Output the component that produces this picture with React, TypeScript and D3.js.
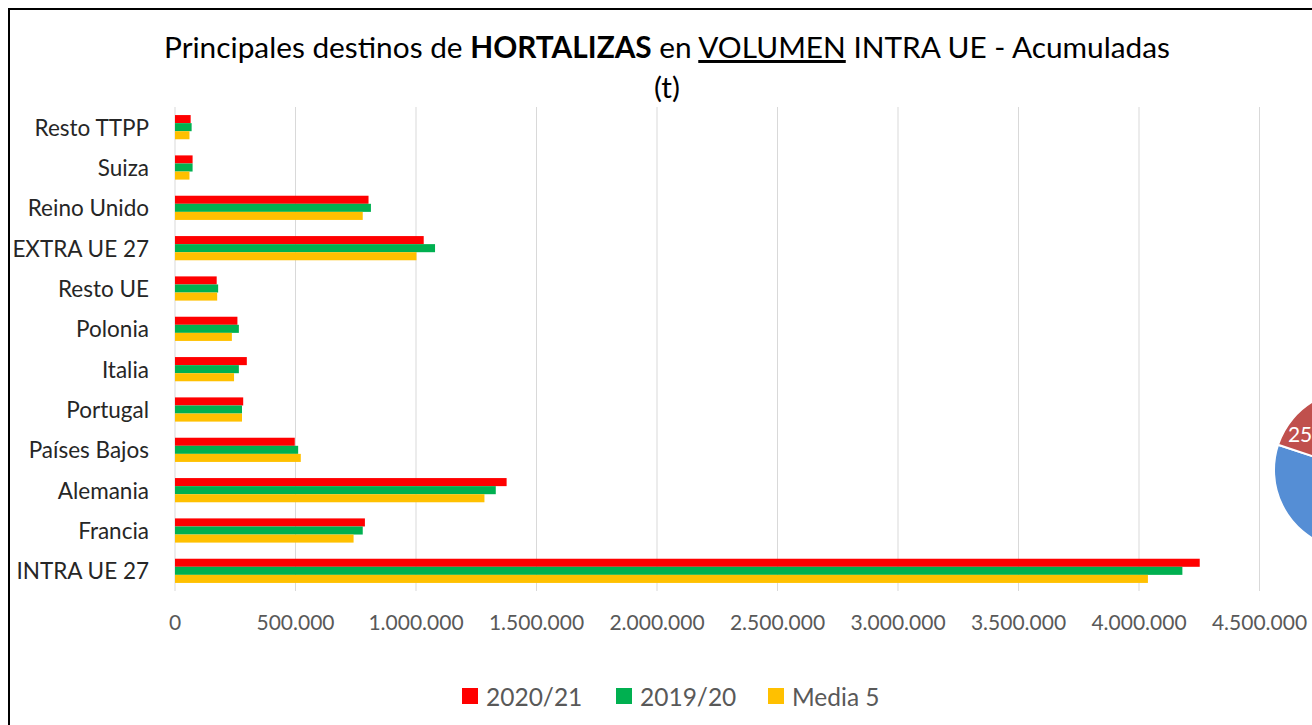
import React from "react";
import * as d3 from "d3";

const categories = [
  "Resto TTPP",
  "Suiza",
  "Reino Unido",
  "EXTRA UE 27",
  "Resto UE",
  "Polonia",
  "Italia",
  "Portugal",
  "Países Bajos",
  "Alemania",
  "Francia",
  "INTRA UE 27",
];
const s2020_21 = [65000, 73000, 803000, 1032000, 173000, 259000, 298000, 283000, 497000, 1376000, 788000, 4252000];
const s2019_20 = [69000, 73000, 813000, 1079000, 179000, 265000, 265000, 278000, 511000, 1331000, 779000, 4180000];
const sMedia5 = [60000, 60000, 779000, 1002000, 175000, 236000, 245000, 278000, 522000, 1284000, 741000, 4037000];
const seriesNames = ["2020/21", "2019/20", "Media 5"];
const seriesColors = ["#FF0000", "#00B050", "#FFC000"];
const xTicks = [0, 500000, 1000000, 1500000, 2000000, 2500000, 3000000, 3500000, 4000000, 4500000];
const pieValues = [75, 25];
const pieColors = ["#558ED5", "#C0504D"];
const pieLabel = "25%";

const W = 1312;
const H = 725;
const FONT = "Lato, 'Open Sans', sans-serif";

const locale = d3.formatLocale({ decimal: ",", thousands: ".", grouping: [3], currency: ["", ""] });
const fmt = locale.format(",d");

export default function App() {
  const series = [s2020_21, s2019_20, sMedia5];
  const x = d3.scaleLinear().domain([0, 5000000]).range([175, 1380]);
  const y = d3.scaleBand<string>().domain(categories).range([107, 591]).paddingInner(0.4).paddingOuter(0.2);
  const inner = d3.scaleBand<number>().domain([0, 1, 2]).range([0, y.bandwidth()]);

  const pieCx = 1354;
  const pieCy = 470;
  const pieR = 80;
  const sepAngle = (288.4 * Math.PI) / 180;
  const blueSpan = (pieValues[0] / d3.sum(pieValues)) * 2 * Math.PI;
  const pie = d3
    .pie<number>()
    .sort(null)
    .startAngle(sepAngle - blueSpan)
    .endAngle(sepAngle - blueSpan + 2 * Math.PI);
  const arcs = pie(pieValues);
  const arcGen = d3.arc<d3.PieArcDatum<number>>().innerRadius(0).outerRadius(pieR);
  const labelAng = (299 * Math.PI) / 180;
  const labelR = pieR * 0.945;

  const legendX = [462, 616, 768];

  return (
    <div style={{ position: "fixed", left: 0, top: 0, width: W, height: H, overflow: "hidden", background: "#fff" }}>
      <svg width={W} height={H} style={{ display: "block", fontFamily: FONT }}>
        <rect x={0} y={0} width={W} height={H} fill="#fff" />
        {/* gridlines */}
        {xTicks.map((t) => (
          <line key={"g" + t} x1={x(t)} x2={x(t)} y1={107} y2={591} stroke="#D9D9D9" strokeWidth={1} />
        ))}
        {/* bars */}
        {categories.map((c, i) => (
          <g key={c}>
            {series.map((s, k) => (
              <rect
                key={k}
                x={x(0)}
                y={(y(c) as number) + (inner(k) as number)}
                width={x(s[i]) - x(0)}
                height={inner.bandwidth()}
                fill={seriesColors[k]}
              />
            ))}
          </g>
        ))}
        {/* y labels */}
        {categories.map((c) => (
          <text
            key={"l" + c}
            x={149}
            y={(y(c) as number) + y.bandwidth() / 2}
            textAnchor="end"
            dominantBaseline="central"
            fontSize={22.5}
            fill="#262626"
          >
            {c}
          </text>
        ))}
        {/* x tick labels */}
        {xTicks.map((t) => (
          <text key={"t" + t} x={x(t)} y={621} textAnchor="middle" dominantBaseline="central" fontSize={21} fill="#595959">
            {fmt(t)}
          </text>
        ))}
        {/* title */}
        <text x={667} y={58} textAnchor="middle" fontSize={29.8} fill="#000">
          <tspan>Principales destinos de </tspan>
          <tspan fontWeight="bold">HORTALIZAS</tspan>
          <tspan> en </tspan>
          <tspan textDecoration="underline" style={{ textDecoration: "underline" }}>VOLUMEN</tspan>
          <tspan> INTRA UE - Acumuladas</tspan>
        </text>
        <text x={667} y={98} textAnchor="middle" fontSize={29.8} fill="#000">
          (t)
        </text>
        {/* legend */}
        {seriesNames.map((n, k) => (
          <g key={"lg" + n}>
            <rect x={legendX[k]} y={688} width={16} height={16} fill={seriesColors[k]} />
            <text x={legendX[k] + 24} y={696} dominantBaseline="central" fontSize={24.5} fill="#595959">
              {n}
            </text>
          </g>
        ))}
        {/* partial pie */}
        <g transform={`translate(${pieCx},${pieCy})`}>
          {arcs.map((a, i) => (
            <path key={"p" + i} d={arcGen(a) || ""} fill={pieColors[i]} stroke="#fff" strokeWidth={2} />
          ))}
          <text
            x={labelR * Math.sin(labelAng)}
            y={-labelR * Math.cos(labelAng)}
            textAnchor="start"
            dominantBaseline="central"
            fontSize={21}
            fill="#fff"
          >
            {pieLabel}
          </text>
        </g>
        {/* border */}
        <rect x={9} y={9} width={W + 20} height={H + 20} fill="none" stroke="#000" strokeWidth={2} />
      </svg>
    </div>
  );
}
